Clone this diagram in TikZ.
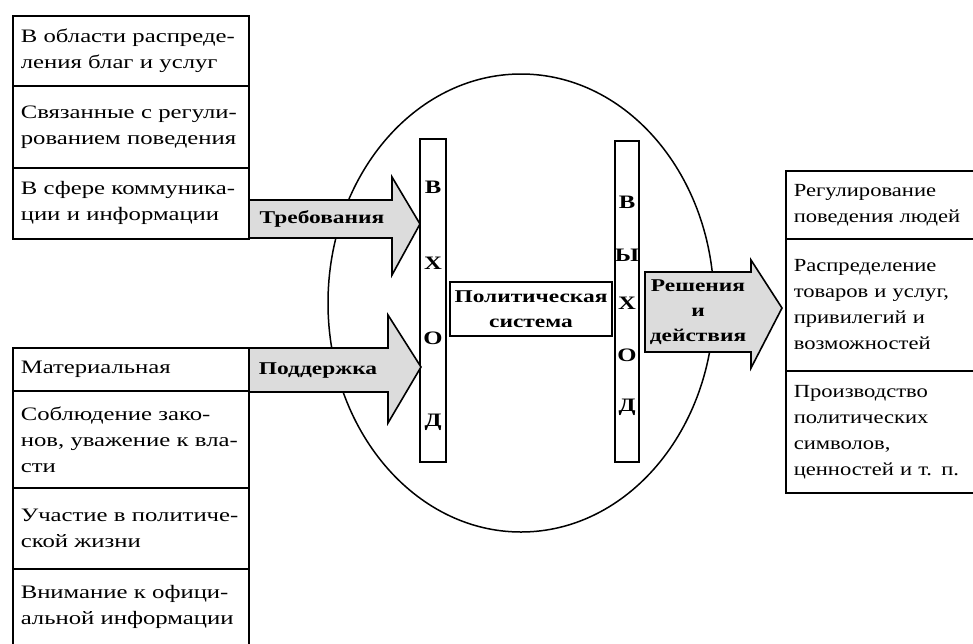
\documentclass[tikz,border=0pt]{standalone}
\usepackage{fontspec}
\setmainfont{Liberation Serif}
\newfontfamily\widefont[FakeStretch=1.3]{Liberation Serif}
\newfontfamily\rightfont[FakeStretch=1.22]{Liberation Serif}
\definecolor{arrowgray}{HTML}{DCDCDC}
\tikzset{
  cell/.style={draw, line width=1.6pt, fill=white, anchor=north west,
    minimum width=236pt, text width=220pt, inner xsep=8pt, inner ysep=2pt,
    align=left, font=\widefont\fontsize{19}{26}\selectfont},
  rcell/.style={cell, minimum width=205pt, text width=189pt,
    font=\rightfont\fontsize{18.5}{26}\selectfont},
  bar/.style={draw, line width=1.6pt, fill=white},
  blockarrow/.style={draw, line width=1.6pt, fill=arrowgray, line join=miter},
  blabel/.style={font=\widefont\bfseries\fontsize{18}{25}\selectfont, inner sep=0pt, align=center},
  letter/.style={font=\widefont\bfseries\fontsize{19}{24}\selectfont, inner sep=0pt},
  oval/.style={draw, line width=1.5pt}
}
\begin{document}
\begin{tikzpicture}[x=1pt,y=-1pt]
\useasboundingbox (0,0) rectangle (973,643);
\clip (0,0) rectangle (973,643);
% system boundary
\draw[oval] (521,303) ellipse [x radius=193, y radius=229];
% input / output bars
\draw[bar] (420,139) rectangle (446,462);
\draw[bar] (615,141) rectangle (639,462);
\node[letter] (in1) at (433,187) {В};
\node[letter] (in2) at (433,263) {Х};
\node[letter] (in3) at (433,338) {О};
\node[letter] (in4) at (433,422) {Д};
\node[letter] (out1) at (627,202) {В};
\node[letter] (out2) at (627,255) {Ы};
\node[letter] (out3) at (627,303) {Х};
\node[letter] (out4) at (627,355) {О};
\node[letter] (out5) at (627,407) {Д};
% political system
\node[draw, line width=1.6pt, fill=white, minimum width=162pt, minimum height=54pt,
      blabel] (ps) at (531,309) {Политическая\\система};
% block arrows
\draw[blockarrow] (248,200) -- (392,200) -- (392,177) -- (420,224) -- (392,275)
      -- (392,238) -- (248,238) -- cycle;
\node[blabel] (dem) at (322,219) {Требования};
\draw[blockarrow] (248,348) -- (388,348) -- (388,315) -- (421,367) -- (388,423)
      -- (388,392) -- (248,392) -- cycle;
\node[blabel] (sup) at (318,371) {Поддержка};
\draw[blockarrow] (645,272) -- (751,272) -- (751,260) -- (782,308) -- (751,368)
      -- (751,352) -- (645,352) -- cycle;
\node[blabel] (dec) at (698,312) {Решения\\и\\действия};
% left top boxes
\node[cell, minimum height=70pt] (d1) at (12,15) {В области распреде-\\ления благ и услуг};
\node[cell, minimum height=82pt] (d2) at (12,85) {Связанные с регули-\\рованием поведения};
\node[cell, minimum height=71pt] (d3) at (12,167) {В сфере коммуника-\\ции и информации};
% left bottom boxes
\node[cell, minimum height=43pt] (s1) at (12,347) {Материальная};
\node[cell, minimum height=97pt] (s2) at (12,390) {Соблюдение зако-\\нов, уважение к вла-\\сти};
\node[cell, minimum height=81pt] (s3) at (12,487) {Участие в политиче-\\ской жизни};
\node[cell, minimum height=76pt] (s4) at (12,568) {Внимание к офици-\\альной информации};
% right boxes
\node[rcell, minimum height=68pt] (r1) at (785,170) {Регулирование\\поведения людей};
\node[rcell, minimum height=132pt] (r2) at (785,238) {Распределение\\товаров и услуг,\\привилегий и\\возможностей};
\node[rcell, minimum height=122pt] (r3) at (785,370) {Производство\\политических\\символов,\\ценностей и т. п.};
\end{tikzpicture}
\end{document}
